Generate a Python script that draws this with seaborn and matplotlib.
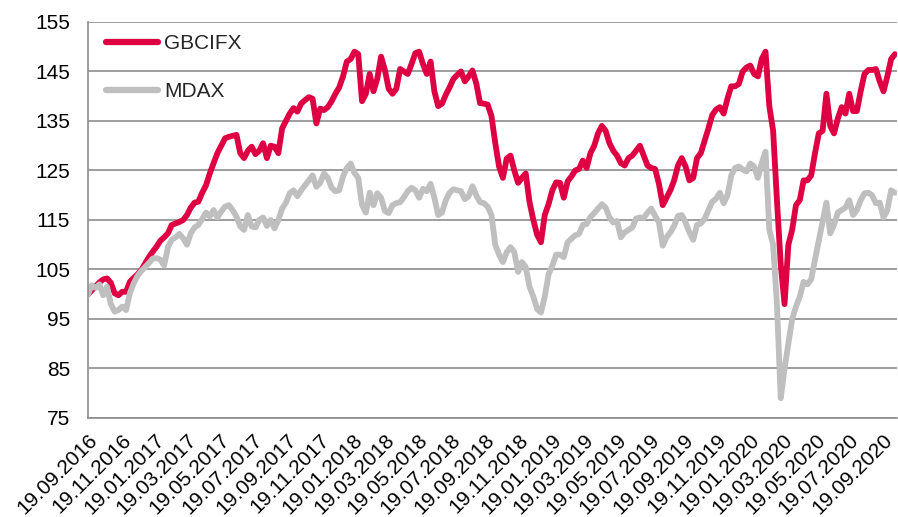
import matplotlib
matplotlib.use("Agg")
import matplotlib.pyplot as plt
import pandas as pd
import seaborn as sns

# weekly index values, start 19.09.2016 = 100
start = "2016-09-19"
gbcifx = [
    100.0, 100.8, 101.6, 102.4, 103.0, 103.2, 102.3, 100.2, 99.8, 100.5,
    100.5, 102.5, 103.3, 104.0, 104.9, 106.2, 107.5, 108.6, 109.6, 110.8,
    111.5, 112.3, 114.0, 114.3, 114.6, 115.0, 116.0, 117.5, 118.5, 118.7,
    120.5, 122.0, 124.4, 126.5, 128.5, 130.0, 131.5, 131.8, 132.0, 132.2,
    128.5, 127.5, 129.0, 129.8, 128.3, 129.0, 130.5, 127.5, 130.0, 129.8,
    128.5, 133.5, 135.0, 136.5, 137.6, 136.9, 138.5, 139.2, 139.8, 139.5,
    134.5, 137.5, 137.2, 137.8, 139.0, 140.5, 141.8, 144.0, 147.0, 147.5,
    149.0, 148.5, 139.0, 140.5, 144.5, 141.0, 143.5, 148.0, 145.3, 141.5,
    140.5, 141.5, 145.5, 145.0, 144.5, 146.5, 148.7, 149.0, 146.5, 144.5,
    147.0, 141.0, 138.0, 138.5, 140.3, 141.8, 143.5, 144.3, 145.0, 143.0,
    144.0, 145.2, 142.6, 138.6, 138.5, 138.3, 136.0, 130.5, 125.8, 123.5,
    127.4, 128.0, 125.0, 122.5, 123.5, 124.4, 118.6, 115.0, 112.0, 110.5,
    116.0, 118.2, 121.0, 122.6, 122.5, 119.5, 122.8, 123.8, 125.0, 125.3,
    127.0, 125.5, 128.5, 130.0, 132.5, 134.0, 133.0, 130.5, 129.0, 128.0,
    126.5, 126.0, 127.5, 128.0, 129.0, 130.0, 128.0, 126.0, 125.5, 125.3,
    122.3, 118.0, 119.5, 121.0, 123.0, 126.0, 127.5, 125.8, 123.0, 123.5,
    127.5, 128.5, 131.0, 133.5, 136.2, 137.3, 137.8, 136.5, 139.5, 142.0,
    142.0, 142.5, 145.0, 145.8, 146.2, 144.5, 144.0, 147.5, 149.0, 138.0,
    133.0, 119.0, 106.0, 98.0, 110.0, 113.0, 118.0, 119.0, 123.0, 123.0,
    124.0, 128.5, 132.5, 133.0, 140.5, 134.0, 132.5, 135.5, 137.8, 136.5,
    140.5, 137.0, 137.0, 141.0, 144.5, 145.3, 145.3, 145.5, 143.0, 141.0,
    144.0, 147.5, 148.5,
]
mdax = [
    100.0, 101.8, 101.3, 102.0, 99.8, 101.5, 98.0, 96.5, 96.8, 97.5,
    96.8, 100.2, 102.2, 103.7, 104.7, 105.5, 106.3, 107.2, 107.3, 107.0,
    105.8, 109.5, 111.0, 111.5, 112.2, 111.3, 110.0, 112.3, 113.5, 114.0,
    115.2, 116.5, 115.7, 117.0, 115.5, 116.7, 117.7, 118.0, 117.0, 115.7,
    113.7, 113.0, 116.0, 113.7, 113.5, 115.0, 115.5, 113.8, 115.0, 113.3,
    115.0, 117.3, 118.5, 120.4, 121.0, 119.8, 121.0, 122.0, 123.0, 124.0,
    121.7, 122.5, 124.4, 123.5, 121.5, 120.8, 121.0, 123.8, 125.5, 126.4,
    124.5, 123.5, 118.0, 116.5, 120.5, 118.0, 120.4, 119.5, 116.8, 116.4,
    118.0, 118.4, 118.6, 119.6, 120.8, 121.5, 121.0, 119.5, 121.3, 120.8,
    122.3, 119.5, 116.0, 116.5, 119.0, 120.5, 121.2, 121.0, 120.8, 119.2,
    119.8, 121.8, 120.0, 118.6, 118.4, 117.7, 116.0, 110.0, 108.0, 106.5,
    108.5, 109.5, 108.5, 104.5, 106.5, 105.5, 101.5, 99.5, 97.0, 96.3,
    99.5, 104.0, 105.8, 108.0, 108.0, 107.5, 110.5, 111.2, 111.9, 112.2,
    114.0, 114.2, 115.6, 116.4, 117.3, 118.2, 117.5, 115.5, 114.5, 114.8,
    111.5, 112.5, 113.0, 113.5, 115.3, 115.5, 115.4, 116.5, 117.3, 115.8,
    114.5, 109.8, 111.5, 112.5, 113.8, 115.8, 116.0, 114.5, 112.5, 111.0,
    114.0, 114.3, 115.2, 117.0, 118.7, 119.3, 120.5, 118.4, 120.0, 124.0,
    125.5, 125.8, 125.2, 124.8, 126.4, 125.8, 123.5, 126.5, 128.8, 113.0,
    110.0, 98.0, 79.0, 85.0, 90.0, 95.0, 97.5, 99.5, 102.5, 102.0,
    103.0, 107.0, 110.8, 114.5, 118.5, 112.3, 114.0, 116.5, 117.0, 117.5,
    119.0, 116.0, 117.0, 119.0, 120.4, 120.5, 120.0, 118.4, 118.5, 115.5,
    117.0, 121.0, 120.5,
]
series_names = ["GBCIFX", "MDAX"]
colors = {"GBCIFX": "#DE0043", "MDAX": "#BFBFBF"}
y_ticks = [75, 85, 95, 105, 115, 125, 135, 145, 155]
tick_dates = pd.date_range("2016-09-19", "2020-09-19", freq=pd.DateOffset(months=2))

dates = pd.date_range(start, periods=len(gbcifx), freq="7D")
df = pd.DataFrame({"Datum": dates, "GBCIFX": gbcifx, "MDAX": mdax})
df = df.melt(id_vars="Datum", var_name="Index", value_name="Wert")

sns.set_style("white")
plt.rcParams["font.family"] = ["Liberation Sans", "DejaVu Sans"]

fig = plt.figure(figsize=(8.98, 5.17), dpi=100)
ax = fig.add_axes([0.098, 0.1915, 0.901, 0.766])

sns.lineplot(data=df, x="Datum", y="Wert", hue="Index", hue_order=series_names,
             palette=colors, linewidth=4.2, ax=ax,
             solid_capstyle="round", solid_joinstyle="round")

ax.set_ylim(75, 155)
ax.set_yticks(y_ticks)
ax.set_xlim(pd.Timestamp("2016-09-19"), pd.Timestamp("2020-10-16"))
ax.set_xticks(tick_dates)
ax.set_xticklabels([d.strftime("%d.%m.%Y") for d in tick_dates],
                   rotation=45, ha="right", va="top", rotation_mode="anchor")
ax.set_xlabel("")
ax.set_ylabel("")

grid_col = "#8C8C8C"
ax.grid(axis="y", color=grid_col, lw=1.2)
ax.set_axisbelow(True)
for s in ["top", "right"]:
    ax.spines[s].set_visible(False)
for s in ["left", "bottom"]:
    ax.spines[s].set_color(grid_col)
    ax.spines[s].set_linewidth(1.2)
ax.tick_params(axis="both", direction="out", length=5, width=1.2,
               color=grid_col, labelcolor="black", labelsize=15)
ax.tick_params(axis="y", pad=8)
ax.tick_params(axis="x", pad=4)

handles, labels = ax.get_legend_handles_labels()
leg = ax.legend(handles, labels, loc="upper left", bbox_to_anchor=(0.022, 0.97),
                frameon=False, fontsize=15, handlelength=2.5, handletextpad=0.3,
                labelspacing=1.4, borderaxespad=0, borderpad=0)
for h in leg.get_lines():
    h.set_linewidth(4.5)
    h.set_solid_capstyle("round")

fig.savefig("out.png", dpi=100)
